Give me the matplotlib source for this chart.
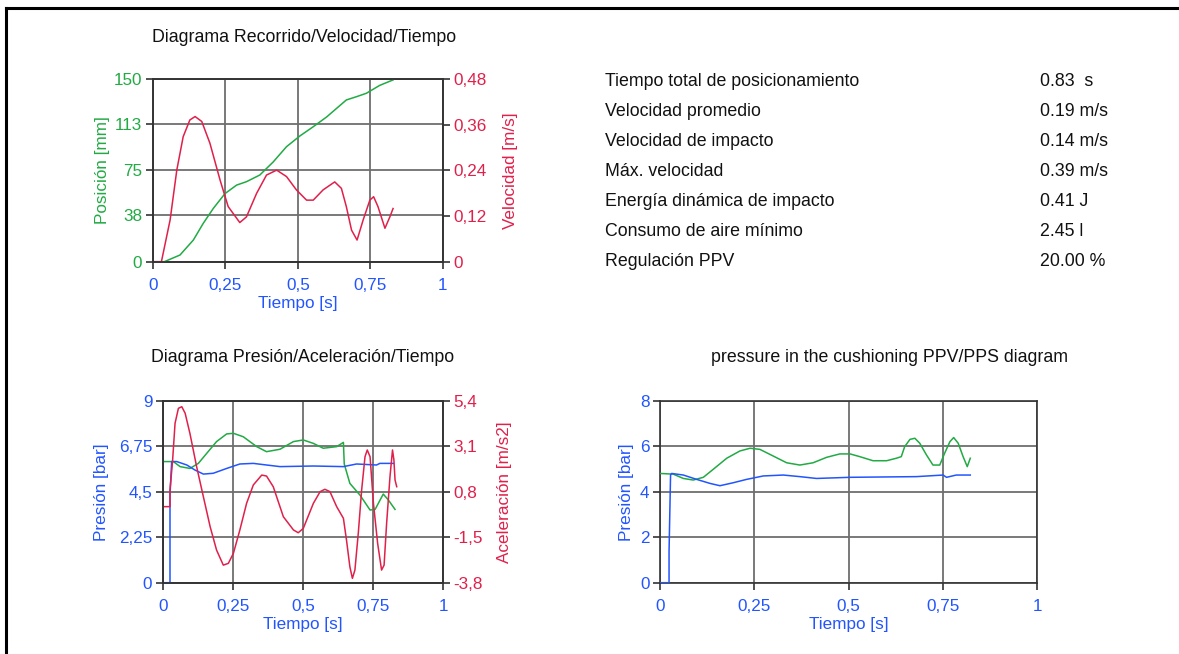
import matplotlib
matplotlib.use("Agg")
import matplotlib.pyplot as plt
from matplotlib.lines import Line2D

plt.rcParams['font.family'] = ['Liberation Sans', 'DejaVu Sans']

GREEN = '#22aa44'
RED = '#e0204a'
BLUE = '#2255ff'
GRID = '#6e6e6e'

# ---------------- data ----------------
x_ticks = [0, 0.25, 0.5, 0.75, 1]
x_tick_labels = ['0', '0,25', '0,5', '0,75', '1']

# Top-left: position / velocity
pos_ticks = [0, 38, 75, 113, 150]
vel_ticks = [0, 0.12, 0.24, 0.36, 0.48]
vel_tick_labels = ['0', '0,12', '0,24', '0,36', '0,48']

pos_t = [0, 0.04, 0.094, 0.14, 0.174, 0.209, 0.249, 0.289, 0.323, 0.369, 0.415,
         0.461, 0.507, 0.553, 0.599, 0.667, 0.702, 0.736, 0.782, 0.828]
pos_v = [0, 0, 5.5, 17.8, 31.5, 43.9, 56, 63, 65.8, 71.3, 82,
         94.6, 103.4, 111, 119, 133, 135.7, 138.5, 145, 149.5]

vel_t = [0, 0.03, 0.06, 0.083, 0.105, 0.128, 0.146, 0.169, 0.197, 0.232, 0.26,
         0.3, 0.323, 0.358, 0.392, 0.427, 0.461, 0.495, 0.53, 0.553, 0.587,
         0.627, 0.65, 0.667, 0.685, 0.704, 0.725, 0.748, 0.761, 0.776, 0.8,
         0.817, 0.828]
vel_v = [0, 0, 0.11, 0.241, 0.329, 0.373, 0.382, 0.369, 0.312, 0.215, 0.145,
         0.103, 0.118, 0.18, 0.228, 0.241, 0.224, 0.189, 0.162, 0.162, 0.189,
         0.21, 0.193, 0.145, 0.083, 0.057, 0.11, 0.162, 0.171, 0.145, 0.088,
         0.118, 0.14]

# Bottom-left: pressure / acceleration
pres_ticks = [0, 2.25, 4.5, 6.75, 9]
pres_tick_labels = ['0', '2,25', '4,5', '6,75', '9']
acc_ticks = [-3.8, -1.5, 0.8, 3.1, 5.4]
acc_tick_labels = ['-3,8', '-1,5', '0,8', '3,1', '5,4']

p1_t = [0, 0.026, 0.026, 0.032, 0.05, 0.086, 0.115, 0.145, 0.18, 0.228, 0.275,
        0.323, 0.37, 0.418, 0.537, 0.644, 0.655, 0.691, 0.762, 0.774, 0.822]
p1_v = [0, 0, 4.34, 6.0, 6.0, 5.83, 5.58, 5.38, 5.42, 5.66, 5.88,
        5.91, 5.83, 5.75, 5.78, 5.75, 5.78, 5.88, 5.83, 5.91, 5.91]

p2_t = [0, 0.038, 0.062, 0.097, 0.127, 0.157, 0.192, 0.228, 0.252, 0.287, 0.335,
        0.37, 0.418, 0.466, 0.501, 0.537, 0.572, 0.62, 0.644, 0.647, 0.667,
        0.703, 0.739, 0.757, 0.786, 0.804, 0.828]
p2_v = [6.0, 6.0, 5.75, 5.66, 5.91, 6.41, 6.99, 7.37, 7.4, 7.23, 6.74,
        6.49, 6.61, 6.99, 7.07, 6.9, 6.66, 6.74, 6.95, 5.88, 4.92,
        4.34, 3.6, 3.63, 4.39, 4.1, 3.63]

acc_t = [0, 0.026, 0.026, 0.035, 0.044, 0.056, 0.068, 0.08, 0.097, 0.121, 0.145,
         0.169, 0.192, 0.216, 0.234, 0.252, 0.275, 0.299, 0.323, 0.353, 0.37,
         0.394, 0.43, 0.466, 0.483, 0.501, 0.537, 0.561, 0.578, 0.596, 0.62,
         0.644, 0.655, 0.667, 0.676, 0.685, 0.697, 0.709, 0.721, 0.729, 0.739,
         0.751, 0.766, 0.78, 0.789, 0.798, 0.81, 0.819, 0.824, 0.828, 0.834]
acc_v = [0.05, 0.05, 0.9, 2.33, 4.27, 5.03, 5.11, 4.78, 3.76, 2.07, 0.55,
         -0.96, -2.15, -2.91, -2.82, -2.31, -1.13, 0.22, 1.15, 1.65, 1.6,
         1.06, -0.46, -1.13, -1.27, -1.05, 0.22, 0.81, 0.93, 0.81, 0.05,
         -0.54, -1.64, -2.99, -3.58, -3.16, -1.3, 0.89, 2.58, 2.92, 2.58,
         0.22, -1.81, -3.16, -2.91, -0.8, 1.57, 2.92, 2.41, 1.4, 1.06]

# Bottom-right: cushioning pressure PPV/PPS
cp_ticks = [0, 2, 4, 6, 8]
cp_tick_labels = ['0', '2', '4', '6', '8']

c1_t = [0, 0.024, 0.024, 0.028, 0.031, 0.062, 0.097, 0.133, 0.159, 0.194, 0.23,
        0.274, 0.327, 0.371, 0.415, 0.504, 0.68, 0.751, 0.76, 0.786, 0.823]
c1_v = [0, 0, 1.37, 4.74, 4.81, 4.74, 4.55, 4.37, 4.27, 4.4, 4.55,
        4.7, 4.74, 4.67, 4.59, 4.64, 4.67, 4.74, 4.64, 4.74, 4.74]

c2_t = [0, 0.035, 0.062, 0.088, 0.115, 0.141, 0.177, 0.212, 0.239, 0.265, 0.3,
        0.336, 0.371, 0.406, 0.442, 0.477, 0.504, 0.53, 0.565, 0.601, 0.627,
        0.64, 0.649, 0.663, 0.676, 0.689, 0.707, 0.724, 0.742, 0.755, 0.769,
        0.779, 0.791, 0.804, 0.815, 0.823]
c2_v = [4.81, 4.78, 4.59, 4.52, 4.64, 4.99, 5.48, 5.8, 5.92, 5.87, 5.58,
        5.28, 5.18, 5.28, 5.52, 5.67, 5.67, 5.55, 5.37, 5.37, 5.48,
        5.55, 5.99, 6.31, 6.36, 6.14, 5.62, 5.18, 5.18, 5.7, 6.21,
        6.39, 6.14, 5.55, 5.11, 5.48]

table_labels = ['Tiempo total de posicionamiento', 'Velocidad promedio',
                'Velocidad de impacto', 'Máx. velocidad',
                'Energía dinámica de impacto', 'Consumo de aire mínimo',
                'Regulación PPV']
table_values = ['0.83  s', '0.19 m/s', '0.14 m/s', '0.39 m/s', '0.41 J',
                '2.45 l', '20.00 %']

# ---------------- layout ----------------
W, H = 1179, 654
fig = plt.figure(figsize=(W / 100, H / 100), dpi=100)
fig.patch.set_facecolor('white')

FS = 12.3      # tick labels / axis labels
FT = 12.8      # titles and table


def px_axes(left, top, right, bottom):
    return fig.add_axes([left / W, 1 - bottom / H, (right - left) / W, (bottom - top) / H])


def style(ax, color_left, yticks, ylabels, ylim, ylabel, ylabelpad):
    ax.set_xlim(0, 1)
    ax.set_ylim(*ylim)
    ax.set_xticks(x_ticks)
    ax.set_xticklabels(x_tick_labels)
    ax.set_yticks(yticks)
    ax.set_yticklabels(ylabels)
    ax.tick_params(axis='x', colors='#333333', labelcolor=BLUE, labelsize=FS,
                   length=5, width=1.2, pad=7, direction='out')
    ax.tick_params(axis='y', colors='#333333', labelcolor=color_left, labelsize=FS,
                   length=5, width=1.2, pad=2.5, direction='out')
    ax.grid(True, color=GRID, lw=1.3)
    ax.set_axisbelow(True)
    for s in ax.spines.values():
        s.set_color('#333333')
        s.set_linewidth(1.2)
    ax.set_xlabel('Tiempo [s]', color=BLUE, fontsize=FS, labelpad=2)
    ax.set_ylabel(ylabel, color=color_left, fontsize=FS, labelpad=ylabelpad)


def style_right(ax2, yticks, ylabels, ylim, ylabel, ylabelpad):
    ax2.set_ylim(*ylim)
    ax2.set_yticks(yticks)
    ax2.set_yticklabels(ylabels)
    ax2.tick_params(axis='y', colors='#333333', labelcolor=RED, labelsize=FS,
                    length=5, width=1.2, pad=2.5)
    ax2.set_ylabel(ylabel, color=RED, fontsize=FS, labelpad=ylabelpad)
    for s in ax2.spines.values():
        s.set_color('#333333')
        s.set_linewidth(1.2)


# Top-left
ax1 = px_axes(152.7, 79.3, 443, 261.7)
style(ax1, GREEN, pos_ticks, [str(v) for v in pos_ticks], (0, 150), 'Posición [mm]', 3)
ax1.plot(pos_t, pos_v, color=GREEN, lw=1.1, zorder=3)
ax1b = ax1.twinx()
style_right(ax1b, vel_ticks, vel_tick_labels, (0, 0.48), 'Velocidad [m/s]', 12)
ax1b.plot(vel_t, vel_v, color=RED, lw=1.1)

# Bottom-left
ax2 = px_axes(162.7, 401, 443.3, 582.7)
style(ax2, BLUE, pres_ticks, pres_tick_labels, (0, 9), 'Presión [bar]', 7)
ax2.plot(p2_t, p2_v, color=GREEN, lw=1.1, zorder=3)
ax2.plot(p1_t, p1_v, color=BLUE, lw=1.1, zorder=3)
ax2b = ax2.twinx()
style_right(ax2b, acc_ticks, acc_tick_labels, (-3.8, 5.4), 'Aceleración [m/s2]', 10)
ax2b.plot(acc_t, acc_v, color=RED, lw=1.1)

# Bottom-right
ax3 = px_axes(660, 401, 1037, 582.7)
style(ax3, BLUE, cp_ticks, cp_tick_labels, (0, 8), 'Presión [bar]', 4)
ax3.plot(c2_t, c2_v, color=GREEN, lw=1.1, zorder=3)
ax3.plot(c1_t, c1_v, color=BLUE, lw=1.1, zorder=3)

# Titles
fig.text(304.5 / W, 1 - 38 / H, 'Diagrama Recorrido/Velocidad/Tiempo',
         ha='center', va='center', fontsize=FT, color='#111111')
fig.text(303 / W, 1 - 358 / H, 'Diagrama Presión/Aceleración/Tiempo',
         ha='center', va='center', fontsize=FT, color='#111111')
fig.text(889.5 / W, 1 - 358 / H, 'pressure in the cushioning PPV/PPS diagram',
         ha='center', va='center', fontsize=FT, color='#111111')

# Table of results
row_y = [81, 111, 141, 171, 201, 231, 262]
for lab, val, y in zip(table_labels, table_values, row_y):
    fig.text(605 / W, 1 - y / H, lab, ha='left', va='center', fontsize=FT, color='#111111')
    fig.text(1040 / W, 1 - y / H, val, ha='left', va='center', fontsize=FT, color='#111111')

# Frame lines (top and left)
fig.add_artist(Line2D([6 / W, 1], [1 - 8 / H, 1 - 8 / H], color='black', lw=2.2,
                      transform=fig.transFigure))
fig.add_artist(Line2D([6 / W, 6 / W], [0, 1 - 8 / H], color='black', lw=2.2,
                      transform=fig.transFigure))

fig.savefig('out.png', dpi=100)
